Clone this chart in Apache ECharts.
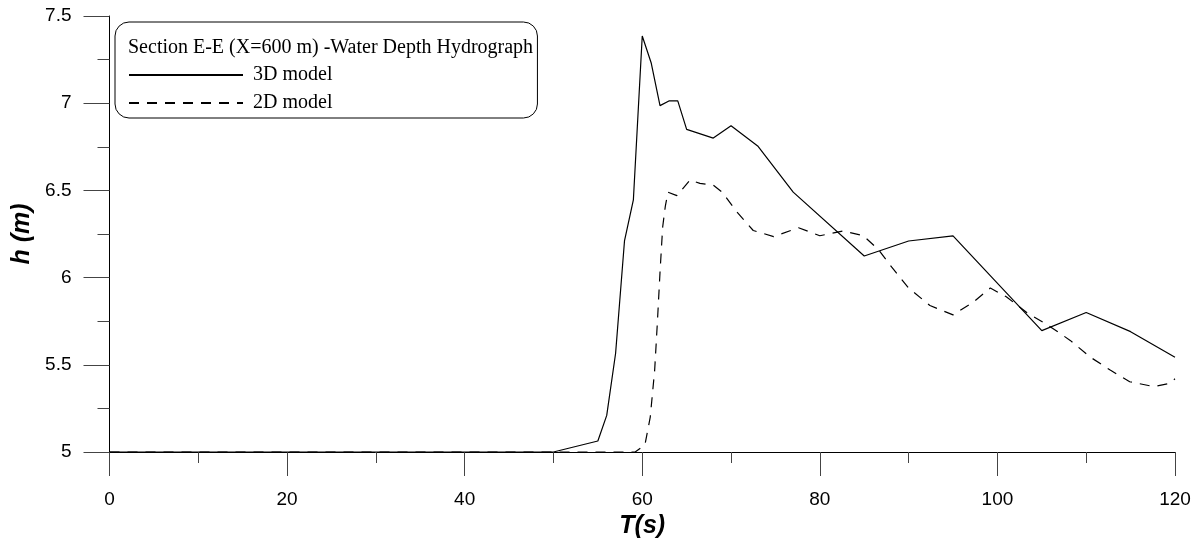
<!DOCTYPE html>
<html>
<head>
<meta charset="utf-8">
<script src="https://cdn.jsdelivr.net/npm/echarts@6/dist/echarts.min.js"></script>
<style>
  html, body { margin: 0; padding: 0; background: #fff; }
  #main { width: 1202px; height: 542px; }
</style>
</head>
<body>
<div id="main"></div>
<script>
// 3D model - time (s) and water depth (m)
var t3d = [0, 50, 55, 56, 57, 58, 59, 60, 61, 62, 63, 64, 65, 68, 70, 73, 77, 85, 90, 95, 105, 110, 115, 120];
var h3d = [5, 5, 5.063, 5.21, 5.566, 6.21, 6.445, 7.385, 7.232, 6.986, 7.013, 7.013, 6.85, 6.80, 6.871, 6.755, 6.49, 6.124, 6.21, 6.239, 5.696, 5.80, 5.69, 5.543];

// 2D model
var t2d = [0, 59.2, 60.3, 60.9, 61.4, 61.7, 62.0, 62.3, 62.6, 62.9, 63.9, 64.4, 65.4, 66.5, 68.0, 69.0, 70.6, 72.5, 74.8, 77.6, 80.0, 82.6, 84.9, 86.6, 88.1, 90.0, 92.4, 95.0, 97.3, 99.2, 101.0, 103.3, 105.9, 108.2, 110.4, 112.7, 114.9, 117.6, 119.4, 120];
var h2d = [5, 5, 5.04, 5.2, 5.47, 5.74, 6.03, 6.29, 6.41, 6.49, 6.47, 6.50, 6.56, 6.54, 6.53, 6.49, 6.38, 6.27, 6.235, 6.286, 6.24, 6.267, 6.24, 6.16, 6.06, 5.94, 5.84, 5.786, 5.86, 5.94, 5.89, 5.80, 5.72, 5.64, 5.546, 5.47, 5.403, 5.375, 5.394, 5.42];

var seriesNames = ['3D model', '2D model'];
var chartTitle = 'Section E-E (X=600 m) -Water Depth Hydrograph';

function pairs(xs, ys) {
    var out = [];
    for (var i = 0; i < xs.length; i++) {
        out.push([xs[i], ys[i]]);
    }
    return out;
}

var myChart = echarts.init(document.getElementById('main'));

var tickStyle = { color: '#444', width: 1 };
var labelStyle = { color: '#000', fontFamily: 'Liberation Sans', fontSize: 19 };
var nameStyle = { color: '#000', fontFamily: 'Liberation Sans', fontSize: 25, fontWeight: 'bold', fontStyle: 'italic' };

var option = {
    animation: false,
    backgroundColor: '#fff',
    title: {
        text: chartTitle,
        left: 128,
        top: 38,
        padding: 0,
        textStyle: { fontFamily: 'Liberation Serif', fontSize: 20, fontWeight: 'normal', color: '#000' }
    },
    legend: {
        data: seriesNames,
        orient: 'vertical',
        left: 115,
        top: 22,
        padding: [43, 205, 5, 13],
        itemWidth: 114,
        itemHeight: 14,
        itemGap: 8,
        borderColor: '#000',
        borderWidth: 1,
        borderRadius: 14,
        backgroundColor: '#fff',
        itemStyle: { color: 'rgba(0,0,0,0)', borderWidth: 0, opacity: 0 },
        textStyle: { fontFamily: 'Liberation Serif', fontSize: 20, color: '#000', padding: [0, 0, 0, 5] }
    },
    grid: { left: 109.5, right: 27, top: 16, bottom: 90, containLabel: false, outerBoundsMode: 'none' },
    xAxis: {
        type: 'value',
        min: 0,
        max: 120,
        interval: 20,
        name: 'T(s)',
        nameLocation: 'middle',
        nameGap: 45,
        nameTextStyle: nameStyle,
        axisLine: { show: true, lineStyle: { color: '#000', width: 1 } },
        axisTick: { show: true, length: 24, lineStyle: tickStyle },
        minorTick: { show: true, splitNumber: 2, length: 11, lineStyle: tickStyle },
        axisLabel: Object.assign({ margin: 38 }, labelStyle),
        splitLine: { show: false }
    },
    yAxis: {
        type: 'value',
        min: 5,
        max: 7.5,
        interval: 0.5,
        name: 'h (m)',
        nameLocation: 'middle',
        nameGap: 74,
        nameRotate: 90,
        nameTextStyle: nameStyle,
        axisLine: { show: true, lineStyle: { color: '#000', width: 1 } },
        axisTick: { show: true, length: 26, lineStyle: tickStyle },
        minorTick: { show: true, splitNumber: 2, length: 12, lineStyle: tickStyle },
        axisLabel: Object.assign({ margin: 38 }, labelStyle),
        splitLine: { show: false }
    },
    series: [
        {
            name: seriesNames[0],
            type: 'line',
            data: pairs(t3d, h3d),
            symbol: 'none',
            lineStyle: { color: '#000', width: 1.2, type: 'solid' },
            itemStyle: { color: '#000' }
        },
        {
            name: seriesNames[1],
            type: 'line',
            data: pairs(t2d, h2d),
            symbol: 'none',
            lineStyle: { color: '#000', width: 1.2, type: [10, 8] },
            itemStyle: { color: '#000' }
        }
    ]
};

myChart.setOption(option);
</script>
</body>
</html>
